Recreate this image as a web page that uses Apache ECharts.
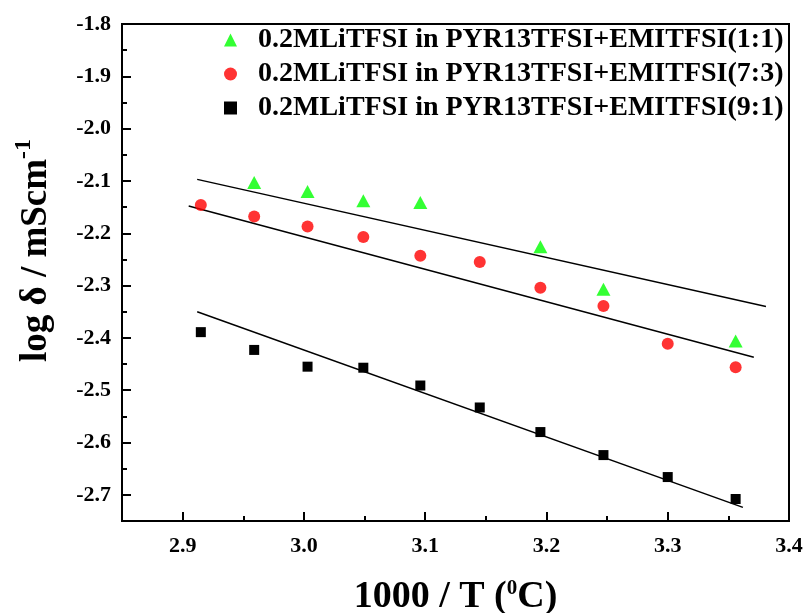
<!DOCTYPE html>
<html>
<head>
<meta charset="utf-8">
<script src="https://cdn.jsdelivr.net/npm/echarts@6/dist/echarts.min.js"></script>
<style>html,body{margin:0;padding:0;background:#fff}#c{width:803px;height:613px}</style>
</head>
<body>
<div id="c"></div>
<script>
// Data
var names = [
  '0.2MLiTFSI in PYR13TFSI+EMITFSI(1:1)',
  '0.2MLiTFSI in PYR13TFSI+EMITFSI(7:3)',
  '0.2MLiTFSI in PYR13TFSI+EMITFSI(9:1)'
];
var xAll = [2.915, 2.959, 3.003, 3.049, 3.096, 3.145, 3.195, 3.247, 3.300, 3.356];
var greenX = [2.959, 3.003, 3.049, 3.096, 3.195, 3.247, 3.356];
var greenY = [-2.103, -2.120, -2.138, -2.141, -2.226, -2.307, -2.406];
var redY = [-2.146, -2.168, -2.187, -2.207, -2.243, -2.255, -2.304, -2.339, -2.411, -2.456];
var blackY = [-2.389, -2.423, -2.455, -2.457, -2.491, -2.533, -2.580, -2.624, -2.666, -2.708];
var fit11X = [2.912, 3.381], fit11Y = [-2.097, -2.340];
var fit73X = [2.905, 3.371], fit73Y = [-2.148, -2.437];
var fit91X = [2.912, 3.362], fit91Y = [-2.350, -2.724];
var xTicks = [2.9, 3.0, 3.1, 3.2, 3.3, 3.4];
var yTicks = [-2.7, -2.6, -2.5, -2.4, -2.3, -2.2, -2.1, -2.0, -1.9, -1.8];

function zip(xs, ys) { return xs.map(function (x, i) { return [x, ys[i]]; }); }

var font = 'Liberation Serif';
var chart = echarts.init(document.getElementById('c'), null, {renderer: 'canvas'});
chart.setOption({
  animation: false,
  backgroundColor: '#fff',
  grid: {left: 122, right: 14, top: 24, bottom: 92, show: true, borderColor: '#000', borderWidth: 2,
    backgroundColor: 'transparent', containLabel: false, outerBoundsMode: 'none'},
  legend: {
    orient: 'vertical', left: 224, top: 26, padding: 0, itemWidth: 13, itemHeight: 13, itemGap: 6,
    data: names,
    textStyle: {fontFamily: font, fontWeight: 'bold', fontSize: 28, color: '#000', padding: [0, 0, 0, 16]}
  },
  xAxis: [{
    type: 'value', min: 2.85, max: 3.4,
    axisLine: {show: true, lineStyle: {color: '#000', width: 2}},
    axisTick: {show: true, inside: true, length: 9, lineStyle: {width: 2}, customValues: xTicks},
    axisLabel: {customValues: xTicks, margin: 14, color: '#000', fontFamily: font, fontWeight: 'bold', fontSize: 22,
      formatter: function (v) { return v.toFixed(1); }},
    splitLine: {show: false},
    name: '1000 / T ({s|0}C)', nameLocation: 'middle', nameGap: 57,
    nameTextStyle: {fontFamily: font, fontWeight: 'bold', fontSize: 38, color: '#000',
      rich: {s: {fontFamily: font, fontWeight: 'bold', fontSize: 21, color: '#000', verticalAlign: 'top', padding: [0, 0, 12, 0]}}}
  }, {
    type: 'value', min: 2.85, max: 3.4, interval: 0.05, position: 'bottom',
    axisLine: {show: false}, axisLabel: {show: false}, splitLine: {show: false},
    axisTick: {show: true, inside: true, length: 5, lineStyle: {width: 2, color: '#000'}}
  }],
  yAxis: [{
    type: 'value', min: -2.75, max: -1.8,
    axisLine: {show: true, lineStyle: {color: '#000', width: 2}},
    axisTick: {show: true, inside: true, length: 9, lineStyle: {width: 2}, customValues: yTicks},
    axisLabel: {customValues: yTicks, margin: 11, color: '#000', fontFamily: font, fontWeight: 'bold', fontSize: 22,
      formatter: function (v) { return v.toFixed(1); }},
    splitLine: {show: false},
    name: '{a|log δ / mScm}{s|-1}', nameLocation: 'middle', nameGap: 62,
    nameTextStyle: {fontFamily: font, fontWeight: 'bold', fontSize: 37, color: '#000', padding: [0, 0, 0, 44],
      rich: {
        a: {fontFamily: font, fontWeight: 'bold', fontSize: 37, color: '#000'},
        s: {fontFamily: font, fontWeight: 'bold', fontSize: 24, color: '#000', padding: [0, 0, 24, 0]}
      }}
  }, {
    type: 'value', min: -2.75, max: -1.8, interval: 0.05, position: 'left',
    axisLine: {show: false}, axisLabel: {show: false}, splitLine: {show: false},
    axisTick: {show: true, inside: true, length: 5, lineStyle: {width: 2, color: '#000'}}
  }],
  series: [
    {name: names[0], type: 'scatter', symbol: 'triangle', symbolSize: [14, 13], itemStyle: {color: '#00ff00'}, data: zip(greenX, greenY), z: 3},
    {name: names[1], type: 'scatter', symbol: 'circle', symbolSize: 12, itemStyle: {color: '#ff0000'}, data: zip(xAll, redY), z: 3},
    {name: names[2], type: 'scatter', symbol: 'rect', symbolSize: 10, itemStyle: {color: '#000000', opacity: 1}, data: zip(xAll, blackY), z: 3},
    {type: 'line', showSymbol: false, symbol: 'none', lineStyle: {color: '#000', width: 1.5}, data: zip(fit11X, fit11Y), z: 2},
    {type: 'line', showSymbol: false, symbol: 'none', lineStyle: {color: '#000', width: 1.5}, data: zip(fit73X, fit73Y), z: 2},
    {type: 'line', showSymbol: false, symbol: 'none', lineStyle: {color: '#000', width: 1.5}, data: zip(fit91X, fit91Y), z: 2}
  ]
});
</script>
</body>
</html>
